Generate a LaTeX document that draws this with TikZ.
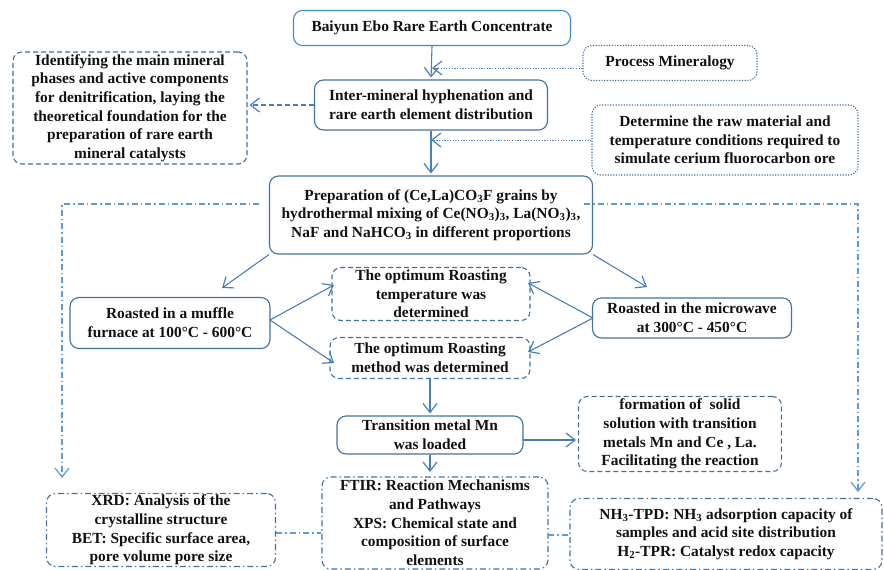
\documentclass[tikz,border=0pt]{standalone}
\usepackage{fontspec}
\setmainfont{Liberation Serif}
\usetikzlibrary{arrows.meta}
\definecolor{bdr}{HTML}{41719C}
\definecolor{bright}{HTML}{3A8BD8}
\definecolor{arr}{HTML}{4A7EBB}
\definecolor{ddc}{HTML}{5B9BD5}
\definecolor{txt}{HTML}{111111}
\tikzset{
 base/.style={align=center, inner sep=0pt, rounded corners=9pt, line width=1.1pt, text=txt},
 solidbox/.style={base, draw=bdr},
 dashbox/.style={base, draw=bdr, dash pattern=on 5pt off 3pt},
 dotbox/.style={base, draw=bdr, dash pattern=on 1.2pt off 1.5pt},
 ddbox/.style={base, draw=bdr, dash pattern=on 6pt off 3pt on 1.5pt off 3pt},
 tip/.style={-{Straight Barb[length=9pt,width=14pt,line width=1.2pt]}},
 conn/.style={draw=arr, line width=1.1pt, tip, shorten >=2pt},
 dashconn/.style={conn, dash pattern=on 5pt off 3pt},
 dotconn/.style={conn, line width=1pt, dash pattern=on 1.2pt off 1.5pt},
 ddconn/.style={draw=ddc, line width=1.1pt, dash pattern=on 6pt off 3pt on 1.5pt off 3pt},
}
\begin{document}
\begin{tikzpicture}[x=1pt,y=-1pt,font=\fontsize{15.4}{18.7}\selectfont\bfseries]
\useasboundingbox (0,0) rectangle (884,570);
% nodes
\node[solidbox, draw=bright, minimum width=277, minimum height=35] (baiyun) at (432,28) {Baiyun Ebo Rare Earth Concentrate};
\node[dotbox, minimum width=174, minimum height=35] (proc) at (670,63) {Process Mineralogy};
\node[solidbox, minimum width=233, minimum height=50] (inter) at (431,105) {Inter-mineral hyphenation and\\rare earth element distribution};
\node[dashbox, minimum width=234, minimum height=112] (ident) at (130,108) {Identifying the main mineral\\phases and active components\\for denitrification, laying the\\theoretical foundation for the\\preparation of rare earth\\mineral catalysts};
\node[dotbox, minimum width=266, minimum height=70] (det) at (725,140) {Determine the raw material and\\temperature conditions required to\\simulate cerium fluorocarbon ore};
\node[solidbox, minimum width=323, minimum height=78] (prep) at (431,215) {Preparation of (Ce,La)CO\textsubscript{3}F grains by\\hydrothermal mixing of Ce(NO\textsubscript{3})\textsubscript{3}, La(NO\textsubscript{3})\textsubscript{3},\\NaF and NaHCO\textsubscript{3} in different proportions};
\node[solidbox, minimum width=200, minimum height=51] (muffle) at (170,323) {Roasted in a muffle\\furnace at 100\textdegree C - 600\textdegree C};
\node[dashbox, minimum width=198, minimum height=53] (temp) at (431,294) {The optimum Roasting\\temperature was\\determined};
\node[dashbox, minimum width=200, minimum height=41] (method) at (430,358) {The optimum Roasting\\method was determined};
\node[solidbox, minimum width=199, minimum height=40] (micro) at (692,318) {Roasted in the microwave\\at 300\textdegree C - 450\textdegree C};
\node[solidbox, minimum width=186, minimum height=38] (trans) at (430,435) {Transition metal Mn\\was loaded};
\node[dashbox, minimum width=203, minimum height=75] (form) at (680,434) {formation of~ solid\\solution with transition\\metals Mn and Ce , La.\\Facilitating the reaction};
\node[ddbox, minimum width=226, minimum height=92] (ftir) at (435,523) {FTIR: Reaction Mechanisms\\and Pathways\\XPS: Chemical state and\\composition of surface\\elements};
\node[ddbox, minimum width=229, minimum height=73] (xrd) at (161,530) {XRD: Analysis of the\\crystalline structure\\BET: Specific surface area,\\pore volume pore size};
\node[ddbox, minimum width=312, minimum height=71] (nh3) at (726,534) {NH\textsubscript{3}-TPD: NH\textsubscript{3} adsorption capacity of\\samples and acid site distribution\\H\textsubscript{2}-TPR: Catalyst redox capacity};
% coordinates
\coordinate (pm) at (432,68);
\coordinate (mf) at (222,288);
\coordinate (mw) at (647,287);
\coordinate (mfo) at (270,320);
\coordinate (mwo) at (593,318);
\coordinate (t1) at (334,285);
\coordinate (m1) at (334,363);
\coordinate (t2) at (528,283);
\coordinate (m2) at (528,352);
\coordinate (l0) at (259,204);
\coordinate (l1) at (62,204);
\coordinate (l2) at (62,478);
\coordinate (r0) at (584,204);
\coordinate (r1) at (858,204);
\coordinate (r2) at (858,492);
\coordinate (tf) at (430,472);
\coordinate (tr) at (523,440);
\coordinate (xa) at (276,533);
\coordinate (fa) at (548,535);
% connectors
\draw[conn] (baiyun.south) -- (inter.north);
\draw[dotconn, shorten >=0pt] (proc.west |- pm) -- (pm);
\draw[dashconn] (inter.west) -- (inter.west -| ident.east);
\draw[conn] (inter.south) -- (prep.north);
\draw[dotconn, shorten >=0pt] (det.west) -- (det.west -| inter.south);
\draw[conn, shorten >=0pt] (prep.south west) -- (mf);
\draw[conn, shorten >=0pt] (prep.south east) -- (mw);
\draw[conn, shorten >=0pt] (mfo) -- (t1);
\draw[conn, shorten >=0pt] (mfo) -- (m1);
\draw[conn, shorten >=0pt] (mwo) -- (t2);
\draw[conn, shorten >=0pt] (mwo) -- (m2);
\draw[conn] (method.south) -- (trans.north);
\draw[conn, shorten >=0pt] (trans.south) -- (tf);
\draw[conn] (tr) -- (tr -| form.west);
\draw[ddconn, tip] (l0) -- (l1) -- (l2);
\draw[ddconn, tip] (r0) -- (r1) -- (r2);
\draw[ddconn] (xa) -- (xa -| ftir.west);
\draw[ddconn] (fa) -- (fa -| nh3.west);
\end{tikzpicture}
\end{document}
